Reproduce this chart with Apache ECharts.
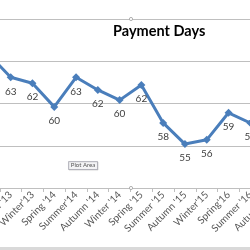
<!DOCTYPE html>
<html><head><meta charset="utf-8">
<script src="https://cdn.jsdelivr.net/npm/echarts@6/dist/echarts.min.js"></script>
<style>html,body{margin:0;padding:0;background:#fff}#c{width:250px;height:250px}</style>
</head><body><div id="c"></div>
<script>
var categories = ["Summer '13","Autumn '13","Winter'13","Spring '14","Summer'14","Autumn '14","Winter '14","Spring '15","Summer '15","Autumn '15","Winter'15","Spring'16","Summer '16","Autumn '16"];
var paymentDays = [65.8, 63.1, 62.4, 59.6, 63.1, 61.6, 60.4, 62.2, 57.7, 55.2, 55.7, 58.9, 57.7, 58.0];
var yTicks = {min: 50, max: 70, interval: 5};
var FONT = 'Lato, "Liberation Sans", sans-serif';
var chart = echarts.init(document.getElementById('c'));
chart.setOption({
  animation: false,
  title: {text: 'Payment Days', left: 113, top: 24, padding: 0,
    textStyle: {fontSize: 14.5, fontWeight: 'bold', color: '#000', fontFamily: FONT}},
  grid: {left: -22, width: 305, top: 19, bottom: 62, containLabel: false, outerBoundsMode: 'none'},
  xAxis: {type: 'category', data: categories, boundaryGap: true,
    axisLine: {lineStyle: {color: '#bfbfbf', width: 1}},
    axisTick: {show: true, length: 4, lineStyle: {color: '#bfbfbf'}},
    axisLabel: {rotate: 45, fontSize: 10, color: '#595959', margin: 5, interval: 0, fontFamily: FONT, hideOverlap: false}},
  yAxis: {type: 'value', min: yTicks.min, max: yTicks.max, interval: yTicks.interval,
    axisLabel: {show: false}, axisLine: {show: false}, axisTick: {show: false},
    splitLine: {lineStyle: {color: '#bfbfbf', width: 1}}},
  series: [{type: 'line', data: paymentDays, symbol: 'diamond', symbolSize: 8,
    lineStyle: {color: '#4a7ebb', width: 3}, itemStyle: {color: '#4a7ebb'},
    label: {show: true, position: 'bottom', distance: 5, fontSize: 10, color: '#404040', fontFamily: FONT,
      formatter: function (p) { return Math.round(p.value); }}}],
  graphic: [
    {type: 'rect', shape: {x: 0, y: 247, width: 250, height: 3}, style: {fill: '#d9d9d9'}, silent: true},
    {type: 'circle', shape: {cx: 131, cy: 19, r: 1.6}, style: {fill: '#fff', stroke: '#a0a0a0', lineWidth: 0.8}, z: 10},
    {type: 'circle', shape: {cx: 131, cy: 188, r: 1.6}, style: {fill: '#fff', stroke: '#a0a0a0', lineWidth: 0.8}, z: 10},
    {type: 'rect', shape: {x: 68.5, y: 161.5, width: 29, height: 8}, style: {fill: '#f4f4f6', stroke: '#9a9aa6', lineWidth: 0.6,
      shadowBlur: 1, shadowColor: 'rgba(0,0,0,0.2)', shadowOffsetX: 0.5, shadowOffsetY: 0.5}, z: 10},
    {type: 'text', x: 83, y: 165.5, style: {text: 'Plot Area', fontSize: 6, fill: '#555', align: 'center', verticalAlign: 'middle', fontFamily: FONT}, z: 11}
  ]
});
</script></body></html>
